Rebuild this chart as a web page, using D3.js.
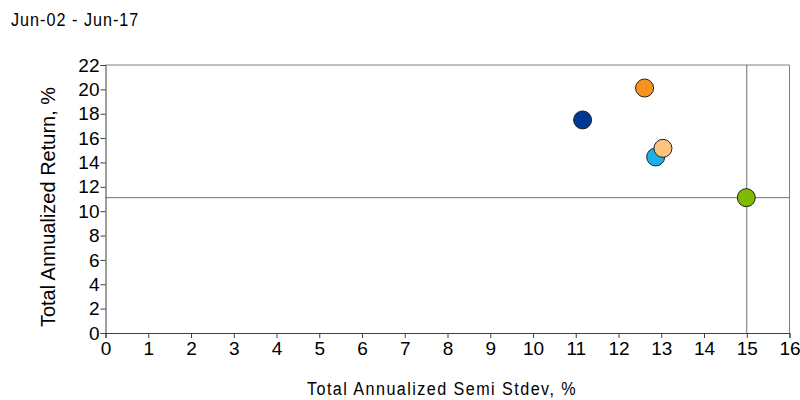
<!DOCTYPE html>
<html><head><meta charset="utf-8">
<script src="https://cdn.jsdelivr.net/npm/d3@7"></script>
<style>
body{margin:0;background:#fff;}
text{font-family:"Liberation Sans",Arial,sans-serif;fill:#000;}
</style></head>
<body><svg id="c" width="800" height="400"></svg>
<script>
const names = ["Fund A","Fund B","Fund C","Fund D","Benchmark"];
const stdev = [11.16, 12.61, 12.87, 13.04, 14.99];
const ret = [17.49, 20.11, 14.45, 15.16, 11.11];
const colors = ["#003893","#F7941D","#1BB0E6","#FDC37F","#7FBA00"];
const xTicks = d3.range(0,17);
const yTicks = d3.range(0,23,2);
const benchX = 15, benchY = 11.11;
const period = "Jun-02 - Jun-17";

const svg = d3.select("#c");
const m = {l:105.5, r:789.5, t:65, b:333};
const x = d3.scaleLinear().domain([0,16]).range([m.l,m.r]);
const y = d3.scaleLinear().domain([0,22]).range([m.b,m.t]);

svg.append("text").attr("transform","translate(11,26) scale(0.85,1)").attr("font-size",19)
  .attr("letter-spacing",1.2).text(period);

// frame top/right
svg.append("line").attr("x1",m.l).attr("x2",m.r).attr("y1",m.t).attr("y2",m.t).attr("stroke","#808080");
svg.append("line").attr("x1",m.r).attr("x2",m.r).attr("y1",m.t).attr("y2",m.b).attr("stroke","#808080");

// crosshair
svg.append("line").attr("x1",m.l).attr("x2",m.r).attr("y1",y(benchY)).attr("y2",y(benchY)).attr("stroke","#707070");
svg.append("line").attr("x1",x(benchX)).attr("x2",x(benchX)).attr("y1",m.t).attr("y2",m.b).attr("stroke","#707070");

const xa = svg.append("g").attr("transform",`translate(0,${m.b})`)
  .call(d3.axisBottom(x).tickValues(xTicks).tickSize(5).tickPadding(4).tickFormat(d3.format("d")));
const ya = svg.append("g").attr("transform",`translate(${m.l},0)`)
  .call(d3.axisLeft(y).tickValues(yTicks).tickSize(5).tickPadding(1).tickFormat(d3.format("d")));
[xa,ya].forEach(a=>{
  a.selectAll("path").attr("stroke","#404040");
  a.selectAll("line").attr("stroke","#404040");
  a.selectAll("text").attr("font-size",19).attr("fill","#000")
   .style("font-family",'"Liberation Sans",Arial,sans-serif');
});

svg.append("text").attr("transform","translate(442,395) scale(0.85,1)").attr("text-anchor","middle")
  .attr("font-size",19).attr("letter-spacing",1.7).text("Total Annualized Semi Stdev, %");
svg.append("text").attr("transform",`translate(55,207) rotate(-90)`)
  .attr("text-anchor","middle").attr("font-size",20).text("Total Annualized Return, %");

svg.append("g").selectAll("circle").data(names).join("circle")
  .attr("cx",(d,i)=>x(stdev[i])).attr("cy",(d,i)=>y(ret[i])).attr("r",9)
  .attr("fill",(d,i)=>colors[i]).attr("stroke","#222").attr("stroke-width",1);
</script></body></html>
